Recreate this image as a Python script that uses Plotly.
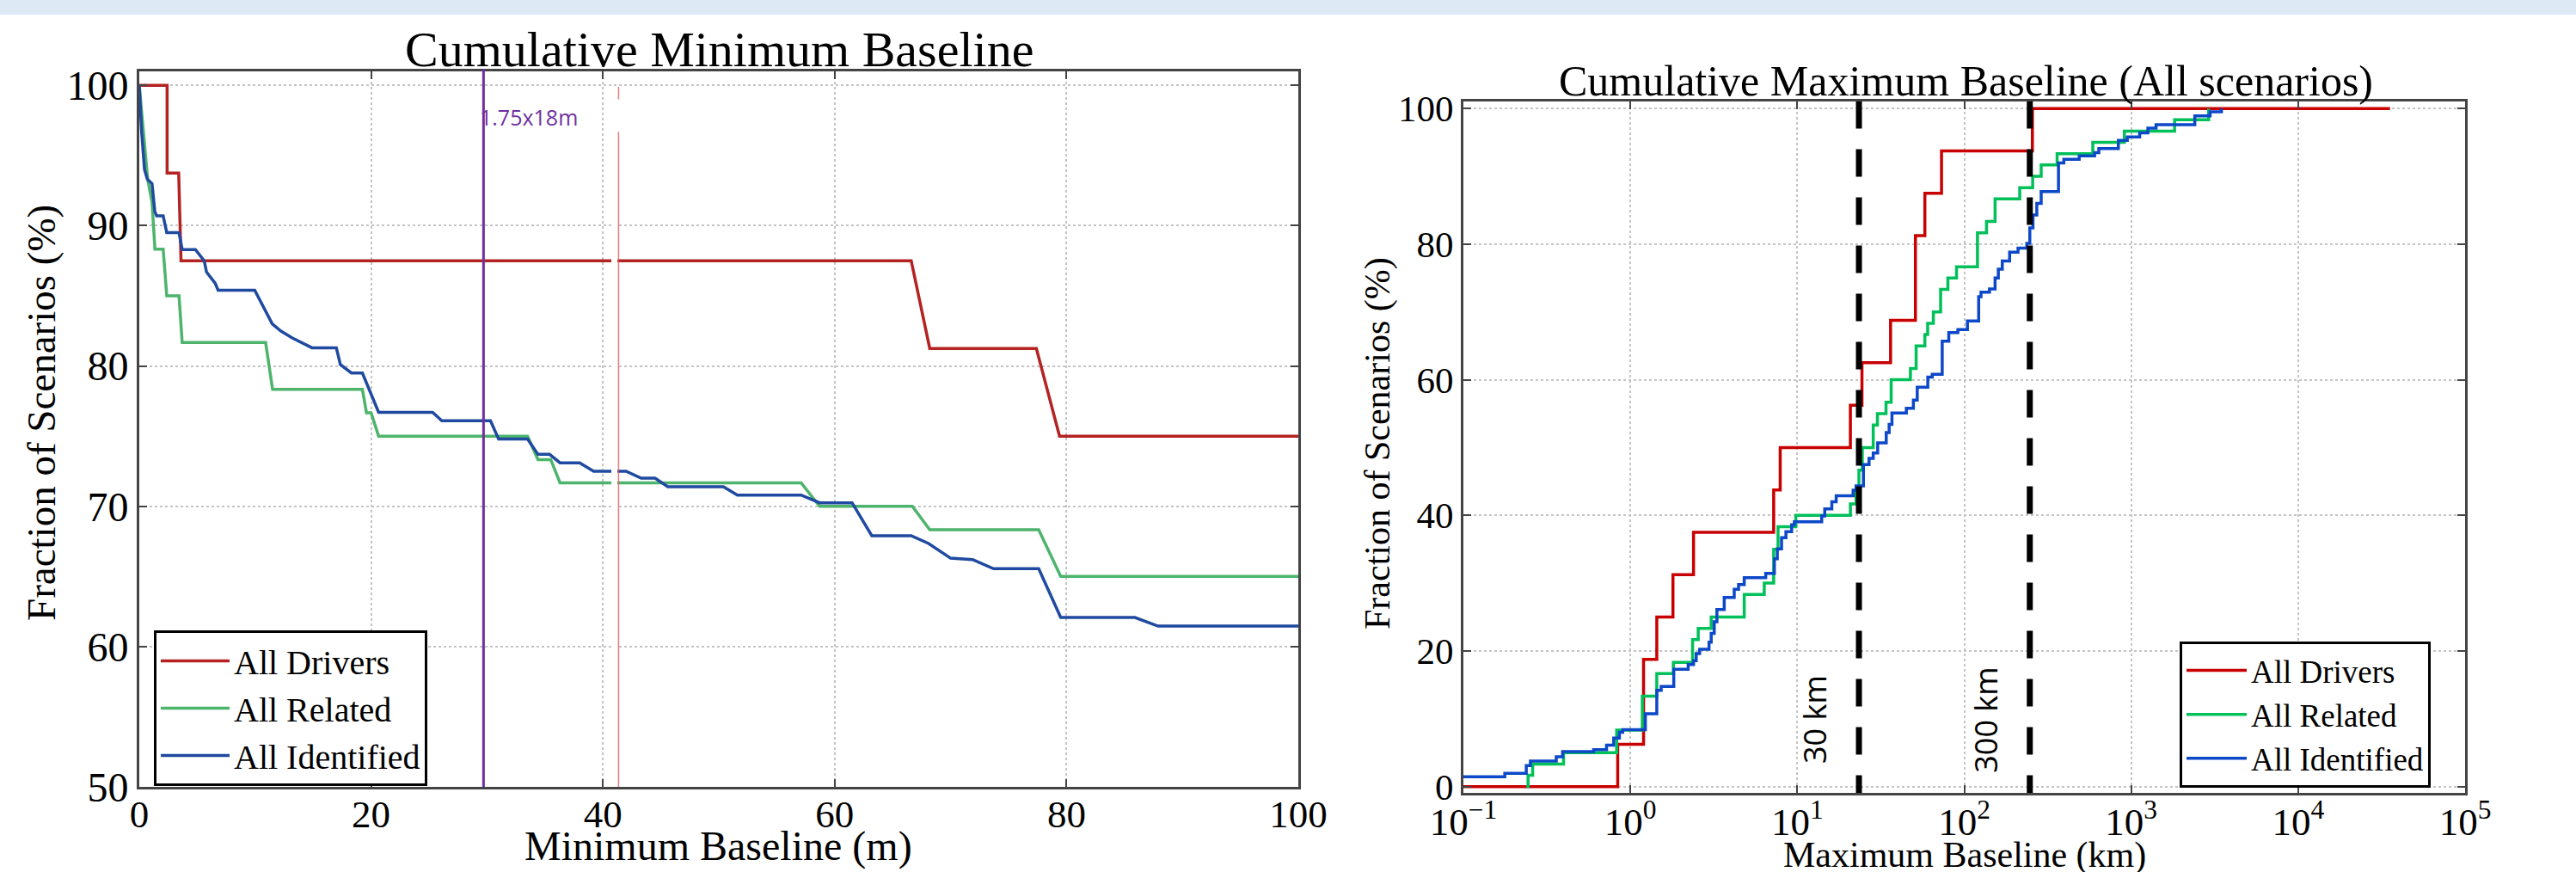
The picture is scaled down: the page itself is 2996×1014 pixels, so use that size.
import numpy as np
import plotly.graph_objects as go

W, H = 2996, 1014
SERIF = "Liberation Serif"

# ---------------- data: left panel (Cumulative Minimum Baseline) ----------------
series_names = ["All Drivers", "All Related", "All Identified"]

min_drivers_m = [0, 2.4, 2.4, 3.4, 3.6, 66.6, 68.2, 77.4, 79.4, 100]
min_drivers_pct = [100, 100, 93.75, 93.75, 87.5, 87.5, 81.25, 81.25, 75.0, 75.0]

min_related_m = [0, 0.35, 0.72, 1.1, 1.2, 1.35, 2.06, 2.37, 3.43, 3.7, 10.9, 11.5, 19.25, 19.6,
                 20.0, 20.65, 33.5, 34.4, 35.5, 36.3, 57.1, 58.7, 66.7, 68.2, 77.6, 79.5, 100]
min_related_pct = [100, 96.67, 93.33, 91.67, 90.0, 88.33, 88.33, 85.0, 85.0, 81.67, 81.67, 78.33,
                   78.33, 76.67, 76.67, 75.0, 75.0, 73.33, 73.33, 71.67, 71.67, 70.0, 70.0, 68.33,
                   68.33, 65.0, 65.0]

min_identified_m = [0, 0.2, 0.45, 0.7, 1.1, 1.34, 1.5, 2.06, 2.37, 3.43, 3.7, 4.84, 5.6, 5.8, 6.55,
                    6.8, 9.96, 10.7, 11.47, 12.2, 13.2, 14.9, 17.0, 17.35, 18.3, 19.25, 19.8, 20.65,
                    25.3, 26.1, 30.3, 31.0, 33.5, 34.4, 35.4, 36.3, 38.0, 39.2, 42.0, 43.3, 44.5,
                    45.6, 50.4, 51.6, 57.1, 58.7, 61.5, 63.2, 66.6, 68.1, 70.0, 71.9, 73.7, 77.6,
                    79.5, 85.9, 87.9, 100]
min_identified_pct = [100, 96.7, 94.0, 93.3, 93.0, 91.0, 90.7, 90.7, 89.5, 89.5, 88.3, 88.3, 87.5,
                      86.7, 85.9, 85.4, 85.4, 84.2, 83.0, 82.5, 82.0, 81.3, 81.3, 80.1, 79.5, 79.5,
                      78.4, 76.7, 76.7, 76.1, 76.1, 74.8, 74.8, 73.7, 73.7, 73.1, 73.1, 72.5, 72.5,
                      72.0, 72.0, 71.4, 71.4, 70.8, 70.8, 70.25, 70.25, 67.9, 67.9, 67.35, 66.3,
                      66.2, 65.55, 65.55, 62.07, 62.07, 61.46, 61.46]

design_baseline_m = 29.7          # purple marker line
design_label = "1.75x18m"
stray_red_m = 41.35               # faint red vertical line left in the figure

# ---------------- data: right panel (Cumulative Maximum Baseline) ----------------
max_drivers_km = [0.1, 0.84, 1.2, 1.44, 1.8, 2.39, 7.22, 7.9, 20.8, 24.4, 36.2, 51, 58.1, 73.1,
                  256, 35500]
max_drivers_pct = [0, 6.25, 18.75, 25, 31.25, 37.5, 43.75, 50, 56.25, 62.5, 68.75, 81.25, 87.5,
                   93.75, 100, 100]

max_related_km = [0.238, 0.244, 0.26, 0.398, 0.828, 1.18, 1.44, 1.81, 2.36, 2.55, 3.05, 4.81, 6.34,
                  7.22, 7.67, 9.8, 20.8, 22.5, 23.4, 24.5, 28.5, 30.2, 34.0, 36.5, 47.6, 51.5, 58.1,
                  60.4, 65.3, 72.2, 79.8, 89.9, 120, 136, 153, 215, 257, 289, 360, 589, 910, 1820,
                  2910]
max_related_pct = [0, 1.67, 3.33, 5.0, 8.33, 13.33, 16.67, 18.33, 21.67, 23.33, 25.0, 28.33, 30.0,
                   35.0, 38.33, 40.0, 41.67, 43.33, 46.67, 50.0, 53.33, 55.0, 56.67, 60.0, 61.67,
                   65.0, 66.67, 68.33, 70.0, 73.33, 75.0, 76.67, 81.67, 83.33, 86.67, 88.33, 90.0,
                   91.67, 93.33, 95.0, 96.67, 98.33, 100]

max_identified_km = [0.1, 0.177, 0.238, 0.252, 0.36, 0.393, 0.603, 0.72, 0.795, 0.86, 0.9, 1.23,
                     1.44, 1.53, 1.82, 2.22, 2.39, 2.48, 2.6, 2.96, 3.05, 3.18, 3.30, 3.65, 4.19,
                     4.45, 4.81, 6.47, 7.29, 7.59, 8.05, 8.55, 9.25, 9.6, 14.0, 14.6, 16.1, 17.1,
                     21.6, 22.5, 24.9, 26.9, 28.5, 30.3, 34.1, 35.5, 36.9, 45, 49.6, 52.3, 60.5,
                     64.3, 73.8, 80.8, 91.6, 104.5, 122, 126, 141.6, 153, 160, 169, 187, 210, 237,
                     247, 258, 272, 289, 367, 395, 488, 604, 640, 838, 948, 1124, 1259, 1409, 2405,
                     2970, 3473]
max_identified_pct = [1.45, 1.95, 3.1, 3.77, 4.4, 5.16, 5.45, 6.1, 7.15, 8.0, 8.4, 10.74, 14.2,
                      14.76, 17.3, 18.0, 18.57, 19.6, 20.25, 21.3, 22.6, 24.3, 26.1, 27.9, 29.1,
                      29.8, 30.8, 31.45, 33.6, 35.05, 36.7, 37.6, 38.6, 39.06, 39.9, 40.96, 42.0,
                      42.9, 43.7, 44.35, 47.5, 48.4, 49.2, 50.7, 52.2, 53.4, 55.1, 55.8, 57.0,
                      58.9, 60.4, 60.8, 65.7, 66.96, 67.4, 68.66, 72.25, 72.9, 73.4, 75.0, 76.3,
                      77.5, 78.8, 79.4, 80.1, 82.4, 84.3, 86.0, 87.75, 91.97, 92.5, 93.0, 93.5,
                      94.1, 95.3, 95.8, 96.4, 97.1, 97.6, 98.9, 99.5, 100]

ref_lines_km = [23.4, 247]
ref_labels = ["30 km", "300 km"]

left_x_ticks = [0, 20, 40, 60, 80, 100]
left_y_ticks = [50, 60, 70, 80, 90, 100]
right_y_ticks = [0, 20, 40, 60, 80, 100]
right_x_ticks = [0.1, 1, 10, 100, 1000, 10000, 100000]
right_x_ticktext = ["10<sup>\u22121</sup>", "10<sup>0</sup>", "10<sup>1</sup>", "10<sup>2</sup>",
                    "10<sup>3</sup>", "10<sup>4</sup>", "10<sup>5</sup>"]

left_colors = ["#b42222", "#4db46c", "#1f4aa0"]
right_colors = ["#c80000", "#00c05a", "#0c48c8"]

# ---------------- figure ----------------
fig = go.Figure()

left_data = [(min_drivers_m, min_drivers_pct), (min_related_m, min_related_pct),
             (min_identified_m, min_identified_pct)]
for name, (xs, ys), col in zip(series_names, left_data, left_colors):
    fig.add_trace(go.Scatter(x=xs, y=ys, mode="lines", name=name, legend="legend",
                             line=dict(color=col, width=3.5), xaxis="x", yaxis="y"))

right_data = [(max_drivers_km, max_drivers_pct), (max_related_km, max_related_pct),
              (max_identified_km, max_identified_pct)]
for name, (xs, ys), col in zip(series_names, right_data, right_colors):
    fig.add_trace(go.Scatter(x=xs, y=ys, mode="lines", name=name, legend="legend2",
                             line=dict(color=col, width=3.5, shape="hv"),
                             xaxis="x2", yaxis="y2"))

for km in ref_lines_km:
    fig.add_trace(go.Scatter(x=[km, km], y=[101.1, -0.93], mode="lines", showlegend=False,
                             line=dict(color="black", width=7, dash="32px,24px"),
                             xaxis="x2", yaxis="y2", hoverinfo="skip"))

# faint red line left in the figure (with a gap near the top)
for y_seg in ([50, 96.7], [99.0, 99.9]):
    fig.add_trace(go.Scatter(x=[stray_red_m, stray_red_m], y=y_seg, mode="lines",
                             showlegend=False, line=dict(color="rgba(225,90,90,0.8)", width=1.5),
                             xaxis="x", yaxis="y", hoverinfo="skip"))

axis_common = dict(showline=True, linecolor="#444444", linewidth=3, mirror="ticks",
                   ticks="inside", ticklen=9, tickwidth=1.5, tickcolor="#444444",
                   showgrid=True, gridcolor="#c4c4c4", gridwidth=1.5, griddash="dot",
                   zeroline=False, automargin=False)


def tfont(size):
    return dict(family=SERIF, size=size, color="black")


fig.update_layout(
    width=W, height=H, margin=dict(l=0, r=0, t=0, b=0, autoexpand=False),
    paper_bgcolor="white", plot_bgcolor="white", showlegend=True,
    xaxis=dict(axis_common, domain=[162 / W, 1510 / W], range=[0, 100], tickvals=left_x_ticks,
               anchor="y", tickfont=tfont(45), ticklabelstandoff=-10),
    yaxis=dict(axis_common, domain=[1 - 915 / H, 1 - 83 / H], range=[50, 101],
               tickvals=left_y_ticks, anchor="x", tickfont=tfont(48)),
    xaxis2=dict(axis_common, domain=[1702 / W, 2867 / W], type="log", range=[-1, 5],
                tickvals=right_x_ticks, ticktext=right_x_ticktext, anchor="y2",
                tickfont=tfont(45), ticklabelstandoff=-8),
    yaxis2=dict(axis_common, domain=[1 - 922 / H, 1 - 117.5 / H], range=[-0.93, 101.1],
                tickvals=right_y_ticks, anchor="x2", tickfont=tfont(43)),
    legend=dict(x=179 / W, y=1 - 733 / H, xanchor="left", yanchor="top", bgcolor="white",
                bordercolor="black", borderwidth=3, itemwidth=80, font=tfont(40)),
    legend2=dict(x=2535 / W, y=1 - 746 / H, xanchor="left", yanchor="top", bgcolor="white",
                 bordercolor="black", borderwidth=3, itemwidth=70, font=tfont(37)),
    shapes=[
        dict(type="rect", xref="paper", yref="paper", x0=0, x1=1, y0=1 - 17 / H, y1=1,
             fillcolor="#dde9f5", line=dict(width=0), layer="below"),
        dict(type="line", xref="x", yref="paper", x0=design_baseline_m, x1=design_baseline_m,
             y0=1 - 915 / H, y1=1 - 80 / H, line=dict(color="#7030a0", width=3)),
        dict(type="rect", xref="x", yref="y", x0=40.73, x1=41.25, y0=50.3, y1=96.7,
             fillcolor="white", line=dict(width=0), layer="above"),
    ],
    annotations=[
        # chart titles
        dict(text="Cumulative Minimum Baseline", xref="paper", yref="paper", x=836 / W,
             y=1 - 58 / H, xanchor="center", yanchor="middle", showarrow=False, font=tfont(58)),
        dict(text="Cumulative Maximum Baseline (All scenarios)", xref="paper", yref="paper",
             x=2286 / W, y=1 - 94 / H, xanchor="center", yanchor="middle", showarrow=False,
             font=tfont(50)),
        # axis titles
        dict(text="Minimum Baseline (m)", xref="paper", yref="paper", x=835 / W,
             y=1 - 984 / H, xanchor="center", yanchor="middle", showarrow=False, font=tfont(48)),
        dict(text="Maximum Baseline (km)", xref="paper", yref="paper", x=2285 / W,
             y=1 - 994 / H, xanchor="center", yanchor="middle", showarrow=False,
             font=tfont(42)),
        dict(text="Fraction of Scenarios (%)", xref="paper", yref="paper", x=48 / W,
             y=1 - 480 / H, xanchor="center", yanchor="middle", textangle=-90,
             showarrow=False, font=tfont(47)),
        dict(text="Fraction of Scenarios (%)", xref="paper", yref="paper", x=1602 / W,
             y=1 - 516 / H, xanchor="center", yanchor="middle", textangle=-90,
             showarrow=False, font=tfont(42)),
        # purple marker label
        dict(text=design_label, xref="x", yref="y", x=design_baseline_m, y=97.73,
             xanchor="left", yanchor="middle", xshift=-6, showarrow=False,
             font=dict(family="Open Sans", size=25, color="#7030a0")),
    ] + [
        dict(text=lab, xref="x2", yref="y2", x=float(np.log10(km)), y=9.85, xshift=-52,
             textangle=-90, xanchor="center", yanchor="middle", showarrow=False,
             font=dict(family="Open Sans", size=36, color="black"))
        for km, lab in zip(ref_lines_km, ref_labels)
    ],
)

# the page body normally has an 8px browser margin; remove it so the figure fills the window
fig.write_html("out.html", config={"displayModeBar": False},
               post_script="document.body.style.margin='0px';")
